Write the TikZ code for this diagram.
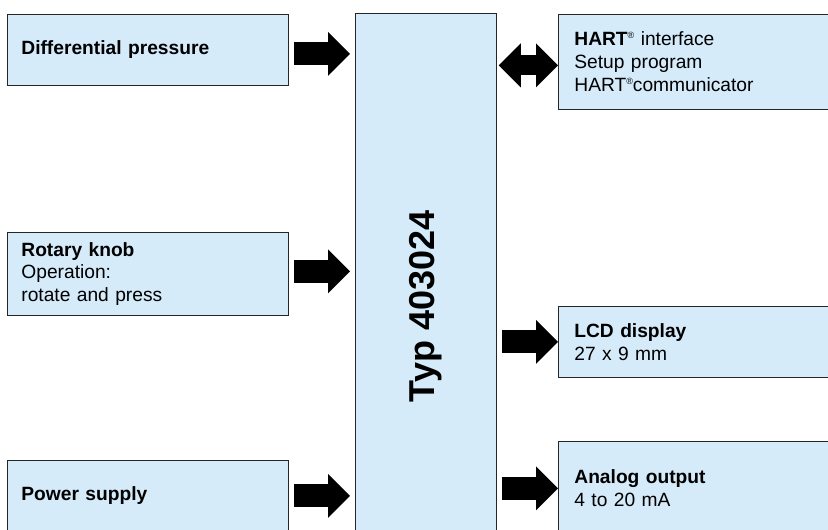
\documentclass[tikz,border=0pt]{standalone}
\usepackage{fontspec}
\setmainfont{Liberation Sans}
\usetikzlibrary{arrows.meta}
\definecolor{bleuclair}{RGB}{213,235,250}
\newcommand\regmark{\raisebox{7pt}{\fontsize{9}{9}\selectfont ®}}
\tikzset{
	bloc/.style = {rectangle, draw=black!85, fill=bleuclair, line width=0.8pt,
		anchor=north west, align=left, font=\fontsize{19.2}{22.8}\selectfont},
	bloc_g/.style = {bloc, inner xsep=14pt, text width=253pt,
		minimum height=#1},% bloc gauche, entree
	bloc_d/.style = {bloc, inner xsep=16pt, text width=249pt,
		minimum height=#1},% bloc droit, sortie
	fleche/.style = {line width=23pt,
		-{Triangle[length=22pt, width=44pt, line width=0pt]}},% fleche simple
	fleche_d/.style = {line width=20pt,
		{Triangle[length=22pt, width=44pt, line width=0pt]}-{Triangle[length=22pt, width=44pt, line width=0pt]}}% fleche double
}

\begin{document}
\begin{tikzpicture}[x=1pt, y=-1pt]
	\useasboundingbox (0,0) rectangle (828,530);
	% entrees
	\node[bloc_g=71pt] (diff) at (7,14) {\textbf{Differential pressure}};
	\node[bloc_g=83pt] (knob) at (7,232) {\textbf{Rotary knob}\\Operation:\\rotate and press};
	\node[bloc_g=71pt] (power) at (7,460) {\textbf{Power supply}};
	% appareil
	\node[bloc, minimum width=141pt, minimum height=586pt, inner sep=0pt] (typ) at (355,13) {};
	\node[rotate=90, font=\bfseries\fontsize{36}{36}\selectfont] (typtxt) at (typ.center) {Typ 403024};
	% sorties
	\node[bloc_d=95pt] (hart) at (558,14) {\textbf{HART}\regmark{} interface\\Setup program\\HART\regmark communicator};
	\node[bloc_d=71pt] (lcd) at (558,306) {\textbf{LCD display}\\27 x 9 mm};
	\node[bloc_d=94pt] (analog) at (558,441) {\textbf{Analog output}\\4 to 20 mA};
	% fleches
	\draw[fleche, shorten <=5pt, shorten >=5pt] ([yshift=-4pt]diff.east) -- ([yshift=-4pt]diff.east -| typ.west);
	\draw[fleche, shorten <=5pt, shorten >=5pt] ([yshift=2.5pt]knob.east) -- ([yshift=2.5pt]knob.east -| typ.west);
	\draw[fleche, shorten <=5pt, shorten >=5pt] (power.east) -- (power.east -| typ.west);
	\draw[fleche_d, shorten <=2pt] ([yshift=-3.5pt]hart.west -| typ.east) -- ([yshift=-3.5pt]hart.west);
	\draw[fleche, shorten <=5pt] (lcd.west -| typ.east) -- (lcd.west);
	\draw[fleche, shorten <=5pt] (analog.west -| typ.east) -- (analog.west);
\end{tikzpicture}
\end{document}
